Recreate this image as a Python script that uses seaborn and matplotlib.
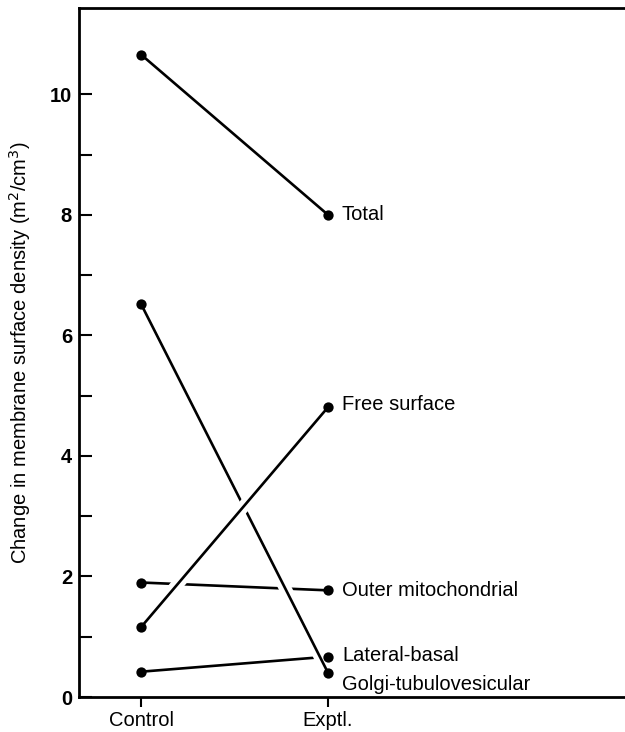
import numpy as np
import pandas as pd
import seaborn as sns
import matplotlib.pyplot as plt
import matplotlib.patheffects as pe

conditions = ['Control', 'Exptl.']
series = ['Total', 'Outer mitochondrial', 'Lateral-basal', 'Golgi-tubulovesicular', 'Free surface']
control_vals = [10.66, 1.90, 0.42, 6.52, 1.16]
exptl_vals = [8.0, 1.77, 0.67, 0.40, 4.81]
# label offsets (points) next to the exptl dot
label_dy = [0, 0, 1, -8, 2]

sns.set_style('ticks')
plt.rcParams['font.family'] = ['Liberation Sans', 'DejaVu Sans']
for key in ['text.color', 'axes.labelcolor', 'xtick.color', 'ytick.color', 'axes.edgecolor']:
    plt.rcParams[key] = 'black'

rows = []
for name, c, e in zip(series, control_vals, exptl_vals):
    rows.append({'series': name, 'cond': conditions[0], 'pos': 0, 'value': c})
    rows.append({'series': name, 'cond': conditions[1], 'pos': 1, 'value': e})
df = pd.DataFrame(rows)

fig = plt.figure(figsize=(6.25, 7.32), dpi=100)
ax = fig.add_axes([0.1264, 0.0478, 0.8736, 0.941])

# draw in order so later lines break the earlier ones at crossings
gap = [pe.Stroke(linewidth=9, foreground='white'), pe.Normal()]
for name in series:
    sub = df[df['series'] == name]
    sns.lineplot(data=sub, x='pos', y='value', ax=ax, color='black',
                 linewidth=1.9, estimator=None, path_effects=gap)

sns.scatterplot(data=df, x='pos', y='value', ax=ax, color='black', s=55,
                edgecolor='black', linewidth=0, zorder=5)

for name, e, dy in zip(series, exptl_vals, label_dy):
    ax.annotate(name, xy=(1, e), xytext=(10, dy), textcoords='offset points',
                ha='left', va='center', fontsize=14.5)

ax.set_xlim(-0.332, 2.588)
ax.set_ylim(0, 11.43)
ax.set_xticks([0, 1])
ax.set_xticklabels(conditions, fontsize=14.5)
ax.set_yticks([0, 2, 4, 6, 8, 10])
ax.set_yticklabels(['0', '2', '4', '6', '8', '10'], fontsize=14.5, fontweight='bold')
ax.set_yticks([1, 3, 5, 7, 9], minor=True)
ax.tick_params(axis='y', which='both', direction='in', length=9.5, width=1.5, pad=5)
ax.tick_params(axis='x', direction='out', length=7, width=1.5, pad=3)
ax.set_xlabel('')
ax.set_ylabel('Change in membrane surface density (m$^2$/cm$^3$)', fontsize=14.5, labelpad=12)

for side in ['left', 'top', 'bottom']:
    ax.spines[side].set_linewidth(2.0)
ax.spines['right'].set_visible(False)

fig.savefig('out.png', dpi=100)
